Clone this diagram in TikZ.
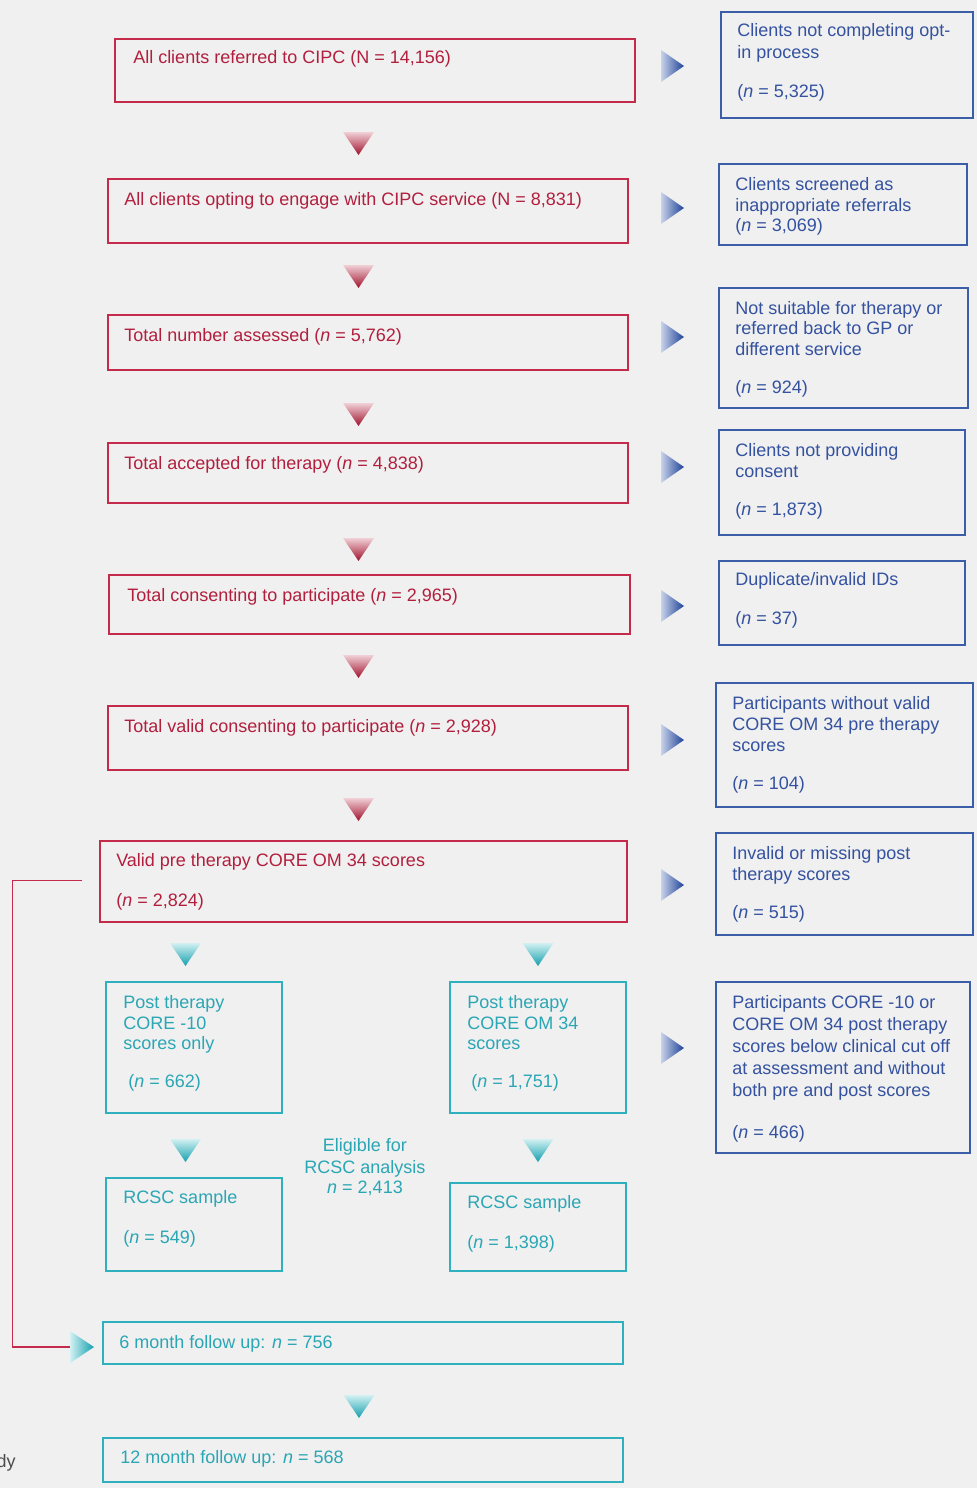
\documentclass[tikz,border=0pt]{standalone}
\usepackage{fontspec}
\setmainfont{Liberation Sans}
\definecolor{bg}{HTML}{F0F0F0}
\definecolor{redc}{HTML}{C42A4A}
\definecolor{redt}{HTML}{B21F3E}
\definecolor{bluec}{HTML}{3C5DA8}
\definecolor{bluet}{HTML}{34529F}
\definecolor{tealc}{HTML}{2EB0BE}
\definecolor{tealt}{HTML}{2AA6B4}
\definecolor{redtop}{HTML}{F0D0D6}
\definecolor{redmid}{HTML}{C23A58}
\definecolor{redbot}{HTML}{A0102C}
\definecolor{bluelt}{HTML}{C8D2EA}
\definecolor{bluemid}{HTML}{4F6FB8}
\definecolor{bluedk}{HTML}{1E4297}
\definecolor{tealtop}{HTML}{D2F0F2}
\definecolor{tealmid}{HTML}{48BEC6}
\definecolor{tealbot}{HTML}{12A0AE}
\tikzset{
  boxbase/.style={draw, inner sep=0pt, outer sep=0pt, anchor=north west, line width=1.2pt},
  redbox/.style={boxbase, draw=redc},
  bluebox/.style={boxbase, draw=bluec},
  tealbox/.style={boxbase, draw=tealc},
  txtbase/.style={inner sep=0pt, anchor=base west, font=\fontsize{13.5pt}{15.75pt}\selectfont},
  redtx/.style={txtbase, text=redt},
  bluetx/.style={txtbase, text=bluet},
  tealtx/.style={txtbase, text=tealt},
  redline/.style={draw=redc, line width=0.9pt}
}
% box: name, style, x1, y1, x2, y2
\newcommand\bx[6]{\node[#2, minimum width={(#5-#3)*0.75pt}, minimum height={(#6-#4)*0.75pt}] (#1) at (#3,#4) {};}
% text line: name, style, x, baseline y, text
\newcommand\tl[5]{\node[#2] (#1) at (#3,#4) {#5};}
% red down triangle at top y
\newcommand\rdown[1]{\shade[top color=redtop, middle color=redmid, bottom color=redbot] (343,#1) -- (374,#1) -- (358.5,#1+23) -- cycle;}
% blue right triangle at centre y
\newcommand\bright[1]{\shade[left color=bluelt, middle color=bluemid, right color=bluedk] (661,#1-16) -- (661,#1+16) -- (684,#1) -- cycle;}
% teal down triangle: centre x, top y
\newcommand\tdown[2]{\shade[top color=tealtop, middle color=tealmid, bottom color=tealbot] (#1-15.5,#2) -- (#1+15.5,#2) -- (#1,#2+23) -- cycle;}
\newcommand\nn{\textit{n}}
\begin{document}
\begin{tikzpicture}[x=0.75pt, y=-0.75pt]
\fill[bg] (0,0) rectangle (977,1488);
\useasboundingbox (0,0) rectangle (977,1488);

% ---- main red column ----
\bx{r1}{redbox}{115}{39}{635}{102}
\tl{r1a}{redtx}{133}{64}{All clients referred to CIPC (N = 14,156)}
\bx{r2}{redbox}{108}{179}{628}{243}
\tl{r2a}{redtx}{124}{205}{All clients opting to engage with CIPC service (N = 8,831)}
\bx{r3}{redbox}{108}{315}{628}{370}
\tl{r3a}{redtx}{124}{341}{Total number assessed (\nn{} = 5,762)}
\bx{r4}{redbox}{108}{443}{628}{503}
\tl{r4a}{redtx}{124}{469}{Total accepted for therapy (\nn{} = 4,838)}
\bx{r5}{redbox}{109}{575}{630}{634}
\tl{r5a}{redtx}{127}{601}{Total consenting to participate (\nn{} = 2,965)}
\bx{r6}{redbox}{108}{706}{628}{770}
\tl{r6a}{redtx}{124}{732}{Total valid consenting to participate (\nn{} = 2,928)}
\bx{r7}{redbox}{100}{841}{627}{922}
\tl{r7a}{redtx}{116}{866}{Valid pre therapy CORE OM 34 scores}
\tl{r7b}{redtx}{116}{906}{(\nn{} = 2,824)}

\rdown{132}
\rdown{265}
\rdown{403}
\rdown{538}
\rdown{655}
\rdown{798}

% ---- right blue column ----
\bx{b1}{bluebox}{721}{12}{973}{118}
\tl{b1a}{bluetx}{737}{37}{Clients not completing opt-}
\tl{b1b}{bluetx}{737}{59}{in process}
\tl{b1c}{bluetx}{737}{98}{(\nn{} = 5,325)}
\bx{b2}{bluebox}{719}{164}{967}{245}
\tl{b2a}{bluetx}{735}{190}{Clients screened as}
\tl{b2b}{bluetx}{735}{211}{inappropriate referrals}
\tl{b2c}{bluetx}{735}{231}{(\nn{} = 3,069)}
\bx{b3}{bluebox}{719}{288}{968}{408}
\tl{b3a}{bluetx}{735}{314}{Not suitable for therapy or}
\tl{b3b}{bluetx}{735}{334}{referred back to GP or}
\tl{b3c}{bluetx}{735}{355}{different service}
\tl{b3d}{bluetx}{735}{393}{(\nn{} = 924)}
\bx{b4}{bluebox}{719}{430}{965}{535}
\tl{b4a}{bluetx}{735}{456}{Clients not providing}
\tl{b4b}{bluetx}{735}{477}{consent}
\tl{b4c}{bluetx}{735}{515}{(\nn{} = 1,873)}
\bx{b5}{bluebox}{719}{561}{965}{645}
\tl{b5a}{bluetx}{735}{585}{Duplicate/invalid IDs}
\tl{b5b}{bluetx}{735}{624}{(\nn{} = 37)}
\bx{b6}{bluebox}{716}{683}{973}{807}
\tl{b6a}{bluetx}{732}{709}{Participants without valid}
\tl{b6b}{bluetx}{732}{730}{CORE OM 34 pre therapy}
\tl{b6c}{bluetx}{732}{751}{scores}
\tl{b6d}{bluetx}{732}{789}{(\nn{} = 104)}
\bx{b7}{bluebox}{716}{833}{973}{935}
\tl{b7a}{bluetx}{732}{859}{Invalid or missing post}
\tl{b7b}{bluetx}{732}{880}{therapy scores}
\tl{b7c}{bluetx}{732}{918}{(\nn{} = 515)}
\bx{b8}{bluebox}{716}{982}{970}{1153}
\tl{b8a}{bluetx}{732}{1008}{Participants CORE -10 or}
\tl{b8b}{bluetx}{732}{1030}{CORE OM 34 post therapy}
\tl{b8c}{bluetx}{732}{1052}{scores below clinical cut off}
\tl{b8d}{bluetx}{732}{1074}{at assessment and without}
\tl{b8e}{bluetx}{732}{1096}{both pre and post scores}
\tl{b8f}{bluetx}{732}{1138}{(\nn{} = 466)}

\bright{66}
\bright{208}
\bright{337}
\bright{467}
\bright{606}
\bright{740}
\bright{885}
\bright{1048}

% ---- teal part ----
\tdown{185.5}{943}
\tdown{538}{943}
\tdown{185.5}{1139}
\tdown{538}{1139}
\tdown{359}{1395}

\bx{t1}{tealbox}{106}{982}{282}{1113}
\tl{t1a}{tealtx}{123}{1008}{Post therapy}
\tl{t1b}{tealtx}{123}{1029}{CORE -10}
\tl{t1c}{tealtx}{123}{1049}{scores only}
\tl{t1d}{tealtx}{128}{1087}{(\nn{} = 662)}
\bx{t2}{tealbox}{450}{982}{626}{1113}
\tl{t2a}{tealtx}{467}{1008}{Post therapy}
\tl{t2b}{tealtx}{467}{1029}{CORE OM 34}
\tl{t2c}{tealtx}{467}{1049}{scores}
\tl{t2d}{tealtx}{471}{1087}{(\nn{} = 1,751)}
\bx{t3}{tealbox}{106}{1178}{282}{1271}
\tl{t3a}{tealtx}{123}{1203}{RCSC sample}
\tl{t3b}{tealtx}{123}{1243}{(\nn{} = 549)}
\bx{t4}{tealbox}{450}{1183}{626}{1271}
\tl{t4a}{tealtx}{467}{1208}{RCSC sample}
\tl{t4b}{tealtx}{467}{1248}{(\nn{} = 1,398)}
\node[tealtx, anchor=base] (e1) at (365,1151) {Eligible for};
\node[tealtx, anchor=base] (e2) at (365,1173) {RCSC analysis};
\node[tealtx, anchor=base] (e3) at (365,1193) {\nn{} = 2,413};

\bx{t5}{tealbox}{103}{1322}{623}{1364}
\tl{t5a}{tealtx}{119}{1348}{6 month follow up: \nn{} = 756}
\bx{t6}{tealbox}{103}{1438}{623}{1482}
\tl{t6a}{tealtx}{120}{1463}{12 month follow up: \nn{} = 568}

% teal right triangle and red connector
\shade[left color=tealtop, middle color=tealmid, right color=tealbot] (70,1331) -- (70,1363) -- (94,1347) -- cycle;
\coordinate (cstart) at (82,880.5);
\coordinate (cend) at (70,1347);
\draw[redline] (cstart) -- (12.5,880.5) |- (cend);

\node[txtbase, anchor=base east, text=black!70] (dy) at (16,1467) {dy};
\end{tikzpicture}
\end{document}
